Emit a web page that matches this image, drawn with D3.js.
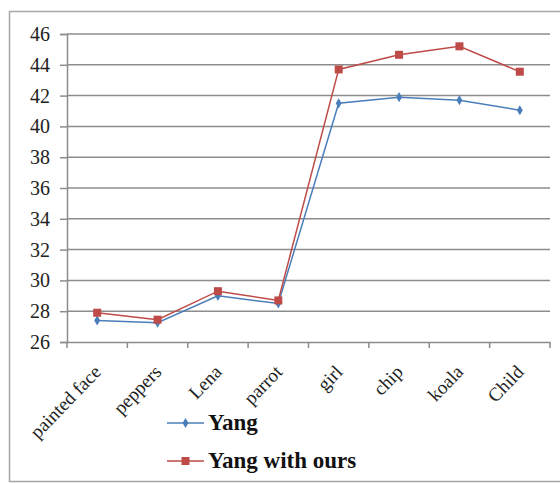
<!DOCTYPE html>
<html><head><meta charset="utf-8">
<script src="https://cdn.jsdelivr.net/npm/d3@7"></script>
<style>body{margin:0;background:#fff}</style>
</head><body><svg id="c" width="560" height="483"></svg>
<script>
const categories = ["painted face","peppers","Lena","parrot","girl","chip","koala","Child"];
const yang = [27.4, 27.25, 29.0, 28.5, 41.5, 41.9, 41.7, 41.05];
const yangOurs = [27.9, 27.45, 29.3, 28.7, 43.7, 44.65, 45.2, 43.55];
const yTicks = [26,28,30,32,34,36,38,40,42,44,46];
const seriesNames = ["Yang","Yang with ours"];
const colors = ["#4a7ebb","#be4b48"];

const svg = d3.select("#c");
// outer border
svg.append("rect").attr("x",9.5).attr("y",11.5).attr("width",560).attr("height",470)
  .attr("fill","none").attr("stroke","#a6a6a6").attr("stroke-width",1.5);

const x = d3.scaleBand().domain(categories).range([67,550]);
const y = d3.scaleLinear().domain([26,46]).range([342,34]);

// gridlines
svg.append("g").selectAll("line").data(yTicks.slice(1)).join("line")
  .attr("x1",67).attr("x2",550).attr("y1",d=>y(d)).attr("y2",d=>y(d))
  .attr("stroke","#8c8c8c").attr("stroke-width",1.5);

// y axis
const ya = svg.append("g").attr("transform","translate(67,0)")
  .call(d3.axisLeft(y).tickValues(yTicks).tickSize(7).tickPadding(10));
ya.select(".domain").attr("stroke","#8c8c8c").attr("stroke-width",1.5);
ya.selectAll(".tick line").attr("stroke","#8c8c8c").attr("stroke-width",1.5);
ya.selectAll("text").attr("font-family","Liberation Serif").attr("font-size",20).attr("fill","#222");

// x axis
const xa = svg.append("g").attr("transform","translate(0,342)")
  .call(d3.axisBottom(x).tickSize(0).tickSizeOuter(0));
xa.select(".domain").attr("stroke","#8c8c8c").attr("stroke-width",1.5);
xa.selectAll(".tick line").remove();
const bounds = categories.map(c=>x(c)).concat([550]);
xa.selectAll(".bt").data(bounds).join("line").attr("class","bt")
  .attr("x1",d=>d).attr("x2",d=>d).attr("y1",0).attr("y2",6)
  .attr("stroke","#8c8c8c").attr("stroke-width",1.5);
xa.selectAll(".tick text").attr("font-family","Liberation Serif").attr("font-size",19).attr("fill","#222")
  .attr("text-anchor","end").attr("dy",0).attr("y",0)
  .attr("transform","translate(5,31) rotate(-46)");

const line = d3.line().x((d,i)=>x(categories[i])+x.bandwidth()/2).y(d=>y(d));
const data = [yang, yangOurs];
data.forEach((s,k)=>{
  svg.append("path").datum(s).attr("d",line).attr("fill","none")
    .attr("stroke",colors[k]).attr("stroke-width",1.5);
});
// markers
const diamond = d3.symbol().type(d3.symbolDiamond).size(30);
svg.append("g").selectAll("path").data(yang).join("path")
  .attr("d",diamond).attr("fill",colors[0])
  .attr("transform",(d,i)=>`translate(${x(categories[i])+x.bandwidth()/2},${y(d)})`);
svg.append("g").selectAll("rect").data(yangOurs).join("rect")
  .attr("x",(d,i)=>x(categories[i])+x.bandwidth()/2-4).attr("y",d=>y(d)-4)
  .attr("width",8).attr("height",8).attr("fill",colors[1]);

// legend
const ly = [423,461];
seriesNames.forEach((n,k)=>{
  const g = svg.append("g");
  g.append("line").attr("x1",167).attr("x2",204).attr("y1",ly[k]).attr("y2",ly[k])
    .attr("stroke",colors[k]).attr("stroke-width",1.5);
  if(k===0) g.append("path").attr("d",diamond).attr("fill",colors[0]).attr("transform",`translate(185.5,${ly[k]})`);
  else g.append("rect").attr("x",181.5).attr("y",ly[k]-4).attr("width",8).attr("height",8).attr("fill",colors[1]);
  g.append("text").attr("x",208).attr("y",ly[k]+7).text(n)
    .attr("font-family","Liberation Serif").attr("font-weight","bold").attr("font-size",23).attr("fill","#111");
});
</script></body></html>
